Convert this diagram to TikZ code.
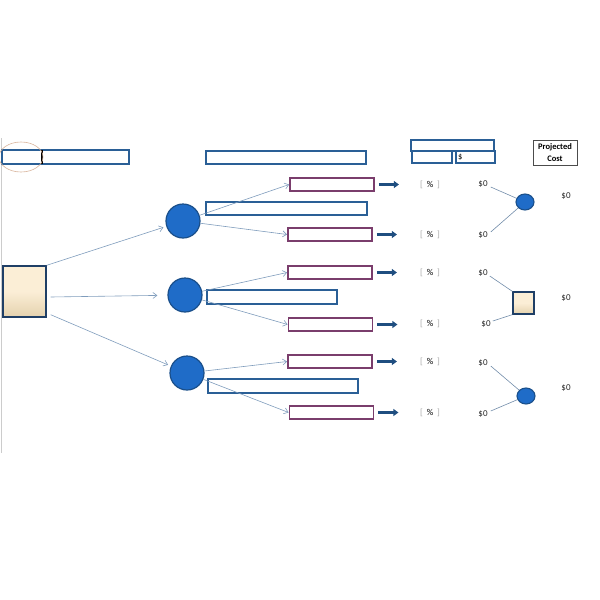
\documentclass[tikz,border=0pt]{standalone}
\usepackage{fontspec}
\setmainfont{Carlito}
\usetikzlibrary{arrows.meta,shapes.geometric}
\definecolor{boxblue}{HTML}{2A5F96}
\definecolor{boxpurple}{HTML}{7A3D6C}
\definecolor{circfill}{HTML}{1F6CC8}
\definecolor{circedge}{HTML}{1A4F8A}
\definecolor{linegrey}{HTML}{7F9CBC}
\definecolor{pushblue}{HTML}{1F4E80}
\definecolor{ringbrown}{HTML}{D8B49C}
\definecolor{sqedge}{HTML}{1F3F66}
\definecolor{beigetop}{HTML}{FBEED6}
\definecolor{beigebot}{HTML}{E4D2AE}
\begin{document}
\begin{tikzpicture}[x=1pt,y=-1pt,
    bluebox/.style 2 args={draw=boxblue,line width=1.6pt,minimum width=#1,minimum height=#2,inner sep=0pt},
    purplebox/.style={draw=boxpurple,line width=1.8pt,minimum width=84pt,minimum height=13pt,inner sep=0pt},
    chance/.style={circle,draw=circedge,fill=circfill,line width=1.2pt,minimum size=34pt,inner sep=0pt},
    smallchance/.style={ellipse,draw=circedge,fill=circfill,line width=1.1pt,minimum width=18pt,minimum height=16pt,inner sep=0pt},
    decision/.style={draw=sqedge,line width=1.4pt,top color=beigetop,bottom color=beigebot,middle color=beigetop,inner sep=0pt},
    flow/.style={draw=linegrey,line width=0.6pt,-{Straight Barb[length=4pt,width=6pt]}},
    push/.style={draw=pushblue,line width=2.2pt,-{Triangle[length=5pt,width=7pt]}},
    twig/.style={draw=linegrey!90!black,line width=0.6pt},
    val/.style={font=\fontsize{9}{10}\selectfont,text=black!85,inner sep=1pt},
    pct/.style={font=\fontsize{9}{10}\selectfont,inner sep=1pt}]

    \useasboundingbox (0,0) rectangle (600,600);

    % left edge
    \draw[black!20,line width=0.8pt] (1,138) -- (1,453);

    % top row of headers
    \node[bluebox={127pt}{14pt}] (head1) at (65.5,157) {};
    \draw[black,line width=1.4pt] (42,150) -- (42,164);
    \node[ellipse,draw=ringbrown,line width=0.6pt,minimum width=44pt,minimum height=30pt] (ring) at (21,157) {};
    \node[bluebox={160pt}{13pt}] (head2) at (286,157.5) {};
    \node[bluebox={83pt}{11pt}] (head3) at (452.5,145.5) {};
    \node[bluebox={40pt}{12pt}] (head3a) at (432,157) {};
    \node[bluebox={39pt}{12pt},font=\fontsize{8.5}{10}\selectfont,text width=35pt,align=left] (head3b) at (475.5,157) {\$};
    \node[draw=black!70,line width=0.6pt,minimum width=44pt,minimum height=25pt,inner sep=0pt,
          font=\bfseries\fontsize{8.5}{11.5}\selectfont,align=center] (proj) at (555,152.5) {Projected\\Cost};

    % decision and chance nodes
    \node[decision,minimum width=43pt,minimum height=51pt] (dec) at (24.5,291.5) {};
    \node[chance] (c1) at (183,221) {};
    \node[chance] (c2) at (185,295) {};
    \node[chance] (c3) at (187,373) {};

    \draw[flow,shorten >=3pt] (dec.north east) -- (c1);
    \draw[flow,shorten >=10pt] ([xshift=4pt,yshift=-5.5pt]dec.east) -- (c2);
    \draw[flow,shorten >=3pt] ([xshift=4pt,yshift=3pt]dec.south east) -- (c3);

    % option labels
    \node[bluebox={161pt}{13pt}] (b1) at (286.5,208.5) {};
    \node[bluebox={130pt}{14pt}] (b2) at (272,297) {};
    \node[bluebox={150pt}{14pt}] (b3) at (283,386) {};

    % outcome boxes
    \node[purplebox] (p1) at (332,184.5) {};
    \node[purplebox] (p2) at (330,234.5) {};
    \node[purplebox] (p3) at (330,272.5) {};
    \node[purplebox] (p4) at (330.5,324.5) {};
    \node[purplebox] (p5) at (330,361.5) {};
    \node[purplebox] (p6) at (331.5,412.5) {};

    \draw[flow] (c1) -- (p1.west);
    \draw[flow] (c1) -- (p2.west);
    \draw[flow] (c2) -- (p3.west);
    \draw[flow] (c2) -- (p4.west);
    \draw[flow] (c3) -- (p5.west);
    \draw[flow] (c3) -- (p6.west);

    \foreach \p in {p1,p2,p3,p4,p5,p6}
        \draw[push] ([xshift=4pt]\p.east) -- ++(20,0);

    % percent and values
    \foreach \n/\y in {1/185,2/235,3/273,4/324,5/362,6/413}
        \node[pct] (pc\n) at (430,\y) {\textcolor{black!35}{[}\hspace{4pt}\%\hspace{4pt}\textcolor{black!35}{]}};

    \node[val] (v1) at (483,184) {\$0};
    \node[val] (v2) at (483,235) {\$0};
    \node[val] (v3) at (483,273) {\$0};
    \node[val] (v4) at (486,324) {\$0};
    \node[val] (v5) at (483,363) {\$0};
    \node[val] (v6) at (483,414) {\$0};

    % right hand tree
    \node[smallchance] (e1) at (525,202) {};
    \node[decision,minimum width=21pt,minimum height=22pt,line width=1.3pt] (sq) at (523.5,303) {};
    \node[smallchance] (e2) at (526,396) {};

    \draw[twig] ([xshift=2pt,yshift=-3pt]v1.east) -- (e1);
    \draw[twig] ([xshift=2pt,yshift=3pt]v2.east) -- (e1);
    \draw[twig] ([xshift=1pt,yshift=-3pt]v3.east) -- (sq.north west);
    \draw[twig] ([xshift=1pt,yshift=3pt]v4.east) -- (sq.south west);
    \draw[twig] ([xshift=2pt,yshift=-3pt]v5.east) -- (e2);
    \draw[twig] ([xshift=2pt,yshift=3pt]v6.east) -- (e2);

    \node[val] (r1) at (566,196) {\$0};
    \node[val] (r2) at (566,298) {\$0};
    \node[val] (r3) at (566,388) {\$0};

\end{tikzpicture}
\end{document}
